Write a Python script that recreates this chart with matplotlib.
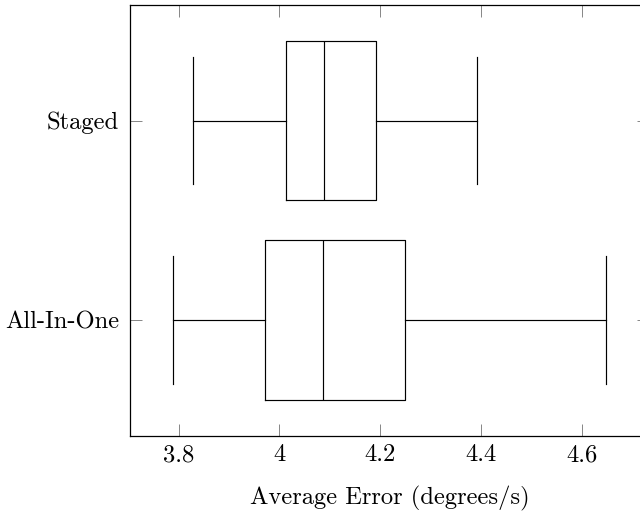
import matplotlib
matplotlib.use("Agg")
import matplotlib.pyplot as plt

plt.rcParams['font.family'] = ['cmr10', 'DejaVu Serif']
plt.rcParams['axes.formatter.use_mathtext'] = True
plt.rcParams['mathtext.fontset'] = 'cm'

categories = ["All-In-One", "Staged"]
whisker_low = [3.789, 3.828]
q1 = [3.971, 4.013]
median = [4.086, 4.088]
q3 = [4.250, 4.192]
whisker_high = [4.648, 4.392]

xticks = [3.8, 4.0, 4.2, 4.4, 4.6]
xticklabels = ["3.8", "4", "4.2", "4.4", "4.6"]

fig = plt.figure(figsize=(6.4, 5.11), dpi=100)
ax = fig.add_axes([130/640, 1-435.7/511, (649-130)/640, (435.7-5)/511])

stats = []
for i, c in enumerate(categories):
    stats.append(dict(label=c, whislo=whisker_low[i], q1=q1[i], med=median[i],
                      q3=q3[i], whishi=whisker_high[i], fliers=[]))

lw = 0.85
ax.bxp(stats, positions=[1, 2], vert=False, widths=0.8, showfliers=False,
       boxprops=dict(color='black', linewidth=lw),
       medianprops=dict(color='black', linewidth=lw),
       whiskerprops=dict(color='black', linewidth=lw),
       capprops=dict(color='black', linewidth=lw), capwidths=0.64)

lo = min(whisker_low); hi = max(whisker_high)
pad = 0.1 * (hi - lo)
ax.set_xlim(lo - pad, hi + pad)
ax.set_ylim(0.42, 2.58)
ax.set_xticks(xticks)
ax.set_xticklabels(xticklabels)
ax.set_yticks([1, 2])
ax.set_yticklabels(categories)

fs = 17.7
ax.tick_params(direction='in', length=8.4, width=0.6, color='0.45',
               top=True, right=True, labelsize=fs)
ax.tick_params(axis='x', pad=6)
ax.tick_params(axis='y', pad=8)
for s in ax.spines.values():
    s.set_linewidth(0.9)
    s.set_color('black')

ax.set_xlabel("Average Error (degrees/s)", fontsize=fs, labelpad=14.5)

fig.savefig("out.png", dpi=100)
